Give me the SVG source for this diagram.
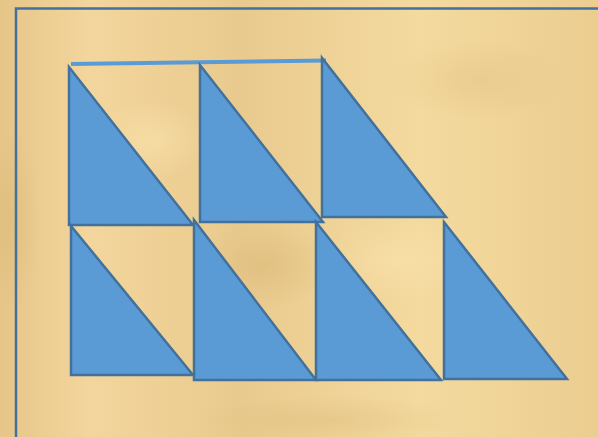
<svg xmlns="http://www.w3.org/2000/svg" width="598" height="437" viewBox="0 0 598 437">
<defs>
<linearGradient id="bg" x1="0" y1="0" x2="1" y2="0">
<stop offset="0" stop-color="#e6c588"/>
<stop offset="0.15" stop-color="#f3d69d"/>
<stop offset="0.4" stop-color="#e9ca8e"/>
<stop offset="0.7" stop-color="#f4da9f"/>
<stop offset="1" stop-color="#ebcd90"/>
</linearGradient>
<radialGradient id="blot" cx="0.5" cy="0.5" r="0.5">
<stop offset="0" stop-color="#d9b775" stop-opacity="0.5"/>
<stop offset="1" stop-color="#d9b775" stop-opacity="0"/>
</radialGradient>
<radialGradient id="light" cx="0.5" cy="0.5" r="0.5">
<stop offset="0" stop-color="#f8e0a8" stop-opacity="0.7"/>
<stop offset="1" stop-color="#f8e0a8" stop-opacity="0"/>
</radialGradient>
</defs>
<style>
.tri{fill:#5b9bd5;stroke:#41719c;stroke-width:2.5;stroke-linejoin:miter}
.frame{stroke:#41719c;stroke-width:2.5;fill:none}
</style>
<rect width="598" height="437" fill="url(#bg)"/>
<ellipse cx="265" cy="265" rx="70" ry="45" fill="url(#blot)"/>
<ellipse cx="480" cy="80" rx="90" ry="40" fill="url(#blot)" opacity="0.6"/>
<ellipse cx="10" cy="220" rx="30" ry="90" fill="url(#blot)"/>
<ellipse cx="330" cy="420" rx="140" ry="25" fill="url(#blot)" opacity="0.7"/>
<ellipse cx="150" cy="140" rx="60" ry="40" fill="url(#light)"/>
<ellipse cx="400" cy="260" rx="80" ry="40" fill="url(#light)"/>
<path class="frame" d="M16,437 V8.5 H598"/>
<g id="connectors">
<line x1="71" y1="64" x2="326" y2="60.5" stroke="#5b9bd5" stroke-width="4"/>
</g>
<g id="t1"><polygon class="tri" points="69,67 69,225 193,225"/></g>
<g id="t2"><polygon class="tri" points="200,65 200,222 323,222"/></g>
<g id="t3"><polygon class="tri" points="322,58 322,217 446,217"/></g>
<g id="b1"><polygon class="tri" points="71,226 71,375 193,375"/></g>
<g id="b2"><polygon class="tri" points="194,220 194,380 316,380"/></g>
<g id="b3"><polygon class="tri" points="316,222 316,380 441,380"/></g>
<g id="b4"><polygon class="tri" points="444,222 444,379 567,379"/></g>
</svg>
